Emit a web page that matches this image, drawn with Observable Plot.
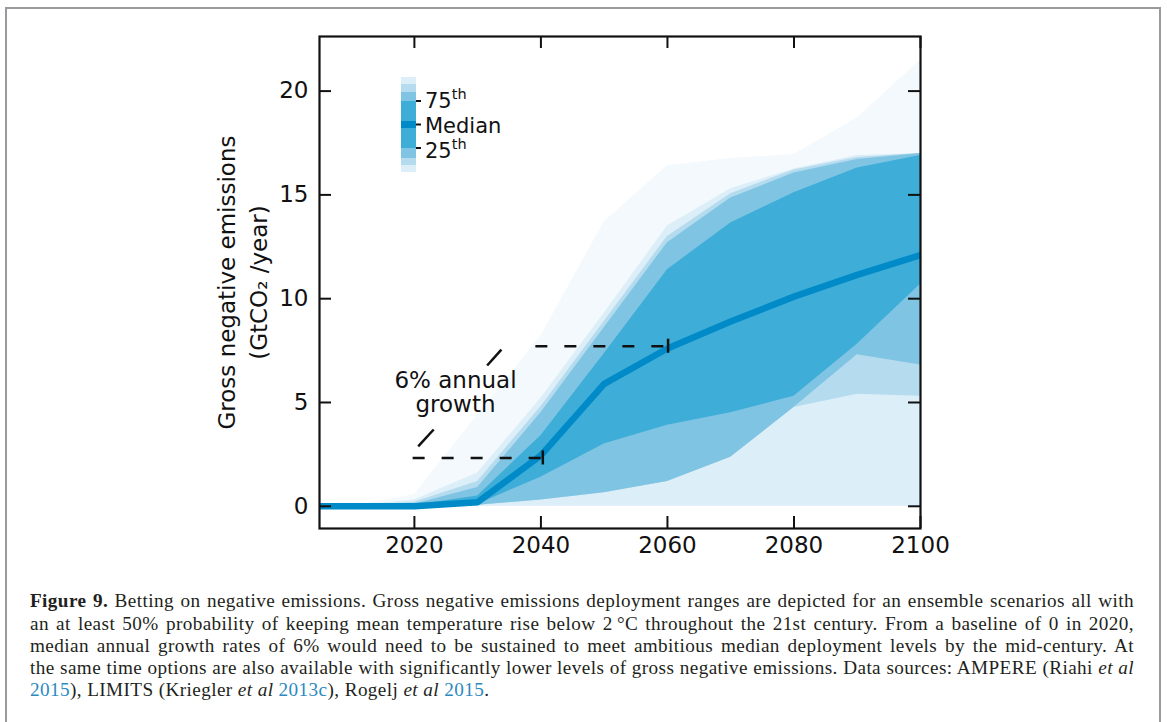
<!DOCTYPE html>
<html>
<head>
<meta charset="utf-8">
<script src="https://cdn.jsdelivr.net/npm/d3@7"></script>
<script src="https://cdn.jsdelivr.net/npm/@observablehq/plot@0.6"></script>
<style>
  html, body { margin: 0; padding: 0; background: #fff; overflow: hidden; }
  #wrap { position: relative; width: 1167px; height: 722px; overflow: hidden; }
  #border { position: absolute; left: 5px; top: 7px; width: 1152px; height: 800px;
            border: 2px solid #9a9a9e; border-bottom: none; }
  #chart { position: absolute; left: 0; top: 0; }
  #caption { position: absolute; left: 30px; top: 590.3px; width: 1104px;
             font-family: "Liberation Serif", "Times New Roman", serif; font-size: 19.2px;
             line-height: 22.25px; color: #231f20; }
  #caption .ln { white-space: nowrap; display: block; }
  #caption .ln span.inner { display: inline-block; white-space: nowrap; }
  #caption .ref { color: #2a8abf; }
</style>
</head>
<body>
<div id="wrap">
  <div id="border"></div>
  <div id="chart"></div>
  <div id="caption"></div>
</div>
<script>
// ---- Data ----
const years        = [2005, 2010, 2020, 2030, 2040, 2050, 2060, 2070, 2080, 2090, 2100];
const outerMax     = [0, 0, 0.55, 4.4, 8.2, 13.7, 16.4, 16.75, 16.95, 18.7, 21.5];
const bandBTop     = [0, 0, 0.3, 1.6, 5.2, 9.3, 13.5, 15.3, 16.25, 16.9, 17.0];
const bandCTop     = [0, 0, 0.2, 1.2, 4.8, 8.9, 13.0, 15.05, 16.2, 16.8, 17.0];
const bandDTop     = [0, 0, 0.1, 0.9, 4.5, 8.6, 12.7, 14.85, 16.05, 16.7, 17.0];
const bandETop     = [0, 0, 0.05, 0.5, 3.4, 7.35, 11.4, 13.65, 15.1, 16.3, 16.9];
const median       = [0, 0, 0, 0.2, 2.45, 5.9, 7.6, 8.9, 10.1, 11.15, 12.1];
const bandEBottom  = [0, 0, 0, 0.1, 1.4, 3.0, 3.9, 4.5, 5.3, 7.8, 10.7];
const bandDBottom  = [0, 0, 0, 0.05, 0.3, 0.65, 1.2, 2.36, 4.76, 7.3, 6.8];
const bandCBottom  = [0, 0, 0, 0.05, 0.3, 0.65, 1.2, 2.36, 4.76, 5.4, 5.3];

const xTicks = [2020, 2040, 2060, 2080, 2100];
const yTicks = [0, 5, 10, 15, 20];

// growth annotation: dashed levels (start year, end year, level)
const growthStart = [2019.8, 2039.2];
const growthEnd   = [2040.3, 2060.1];
const growthLevel = [2.33, 7.71];
// short diagonal pointer strokes
const pointerX1 = [2020.6, 2031.5];
const pointerY1 = [2.89, 6.78];
const pointerX2 = [2023.05, 2033.75];
const pointerY2 = [3.70, 7.55];
const annoLabels = ["6% annual", "growth"];
const annoX = [2026.5, 2026.5];
const annoY = [6.04, 4.88];

const legendLabels = ["75", "Median", "25"];
const legendSup = ["th", "", "th"];

// ---- Build tables ----
const table = years.map((year, i) => ({
  year,
  outerMax: outerMax[i], bTop: bandBTop[i], cTop: bandCTop[i], dTop: bandDTop[i], eTop: bandETop[i],
  median: median[i], eBot: bandEBottom[i], dBot: bandDBottom[i], cBot: bandCBottom[i]
}));
const dashes = growthLevel.map((y, i) => ({x1: growthStart[i], x2: growthEnd[i], y}));
const pointers = pointerX1.map((x1, i) => ({x1, y1: pointerY1[i], x2: pointerX2[i], y2: pointerY2[i]}));
const labels = annoLabels.map((t, i) => ({t, x: annoX[i], y: annoY[i]}));

const W = 1167, H = 570, mL = 319, mR = 247, mT = 36, mB = 42;
const plotW = W - mL - mR, plotH = H - mT - mB, tk = 12;
const FONT = "DejaVu Sans";

const chart = Plot.plot({
  width: W, height: H,
  marginLeft: mL, marginRight: mR, marginTop: mT, marginBottom: mB,
  style: {fontFamily: FONT, fontSize: "23px", background: "transparent", color: "#111"},
  x: {domain: [2005, 2100]},
  y: {domain: [-1.07, 22.63]},
  marks: [
    Plot.areaY(table, {x: "year", y1: 0, y2: "outerMax", fill: "#f3f9fc"}),
    Plot.areaY(table, {x: "year", y1: 0, y2: "bTop", fill: "#dceef7"}),
    Plot.areaY(table, {x: "year", y1: "cBot", y2: "cTop", fill: "#b4dbee"}),
    Plot.areaY(table, {x: "year", y1: "dBot", y2: "dTop", fill: "#80c4e3"}),
    Plot.areaY(table, {x: "year", y1: "eBot", y2: "eTop", fill: "#3eaed8"}),
    Plot.line(table, {x: "year", y: "median", stroke: "#008bc8", strokeWidth: 6.5, strokeLinejoin: "miter", strokeLinecap: "butt"}),
    Plot.ruleY(dashes, {y: "y", x1: "x1", x2: "x2", stroke: "#111", strokeWidth: 2.5, strokeDasharray: "12,17"}),
    Plot.ruleX(dashes, {x: "x2", y1: d => d.y - 0.34, y2: d => d.y + 0.34, stroke: "#111", strokeWidth: 2.5}),
    Plot.link(pointers, {x1: "x1", y1: "y1", x2: "x2", y2: "y2", stroke: "#111", strokeWidth: 2.5}),
    Plot.text(labels, {x: "x", y: "y", text: "t", textAnchor: "middle", lineAnchor: "middle", fontSize: 23, fill: "#111"}),
    // axes (labels only) + inward ticks on all four sides
    Plot.axisX(xTicks, {tickSize: 0, tickPadding: 8, label: null, tickFormat: d3.format("d"), fontSize: 23, fill: "#111"}),
    Plot.axisY(yTicks, {tickSize: 0, tickPadding: 11, label: null, tickFormat: d3.format("d"), fontSize: 23, fill: "#111"}),
    Plot.tickX(xTicks, {x: d => d, insetTop: plotH - tk, stroke: "#111", strokeWidth: 2}),
    Plot.tickX(xTicks, {x: d => d, insetBottom: plotH - tk, stroke: "#111", strokeWidth: 2}),
    Plot.tickY(yTicks, {y: d => d, insetRight: plotW - tk, stroke: "#111", strokeWidth: 2}),
    Plot.tickY(yTicks, {y: d => d, insetLeft: plotW - tk, stroke: "#111", strokeWidth: 2}),
    Plot.frame({stroke: "#111", strokeWidth: 2.2}),
    Plot.text(["Gross negative emissions"], {frameAnchor: "left", dx: -92, rotate: -90, textAnchor: "middle", lineAnchor: "middle", fontSize: 23, fill: "#111"}),
    Plot.text(["(GtCO\u2082 /year)"], {frameAnchor: "left", dx: -60, rotate: -90, textAnchor: "middle", lineAnchor: "middle", fontSize: 23, fill: "#111"})
  ]
});
document.getElementById("chart").appendChild(chart);

// ---- Legend (colour key) ----
const svg = d3.select(chart);
const lg = svg.append("g").attr("font-family", FONT).attr("text-anchor", "start");
const strips = [
  ["#dceef7", 77, 84], ["#b4dbee", 84, 92], ["#80c4e3", 92, 101], ["#3eaed8", 101, 121],
  ["#008bc8", 121, 128], ["#3eaed8", 128, 148], ["#80c4e3", 148, 158], ["#b4dbee", 158, 165], ["#dceef7", 165, 172]
];
strips.forEach(([c, y0, y1]) => lg.append("rect").attr("x", 401).attr("y", y0).attr("width", 15).attr("height", y1 - y0).attr("fill", c));
const tickYs = [101, 124.5, 148];
const baseYs = [107.5, 132.7, 157.5];
legendLabels.forEach((lab, i) => {
  lg.append("line").attr("x1", 416).attr("x2", 421).attr("y1", tickYs[i]).attr("y2", tickYs[i]).attr("stroke", "#111").attr("stroke-width", 2);
  const t = lg.append("text").attr("x", 425).attr("y", baseYs[i]).attr("font-size", 21).attr("fill", "#111").text(lab);
  if (legendSup[i]) t.append("tspan").attr("dy", -9).attr("font-size", 14.5).text(legendSup[i]);
});

// ---- Caption ----
const captionLines = [
  '<b>Figure 9.</b> Betting on negative emissions. Gross negative emissions deployment ranges are depicted for an ensemble scenarios all with',
  'an at least 50% probability of keeping mean temperature rise below 2\u2009°C throughout the 21st century. From a baseline of 0 in 2020,',
  'median annual growth rates of 6% would need to be sustained to meet ambitious median deployment levels by the mid-century. At',
  'the same time options are also available with significantly lower levels of gross negative emissions. Data sources: AMPERE (Riahi <i>et al</i>',
  '<span class="ref">2015</span>), LIMITS (Kriegler <i>et al</i> <span class="ref">2013c</span>), Rogelj <i>et al</i> <span class="ref">2015</span>.'
];
const cap = document.getElementById("caption");
captionLines.forEach((html) => {
  const d = document.createElement("div");
  d.className = "ln";
  d.innerHTML = '<span class="inner">' + html + '</span>';
  cap.appendChild(d);
});
function justify() {
  const lines = Array.from(cap.querySelectorAll(".ln"));
  const inners = lines.map(d => d.querySelector(".inner"));
  inners.forEach(s => { s.style.wordSpacing = "0px"; s.style.letterSpacing = "0px"; });
  const ref = inners[3];
  const w4 = ref.getBoundingClientRect().width;
  const n4 = ref.textContent.length;
  const ls = Math.max(0, (1100 - w4) / n4);
  inners.forEach(s => { s.style.letterSpacing = ls + "px"; });
  inners.forEach((s, i) => {
    if (i === inners.length - 1) return;
    const natural = s.getBoundingClientRect().width;
    const spaces = (s.textContent.match(/ /g) || []).length;
    if (spaces > 0) s.style.wordSpacing = ((1104 - natural) / spaces) + "px";
  });
}
justify();
if (document.fonts && document.fonts.ready) document.fonts.ready.then(justify);
</script>
</body>
</html>
